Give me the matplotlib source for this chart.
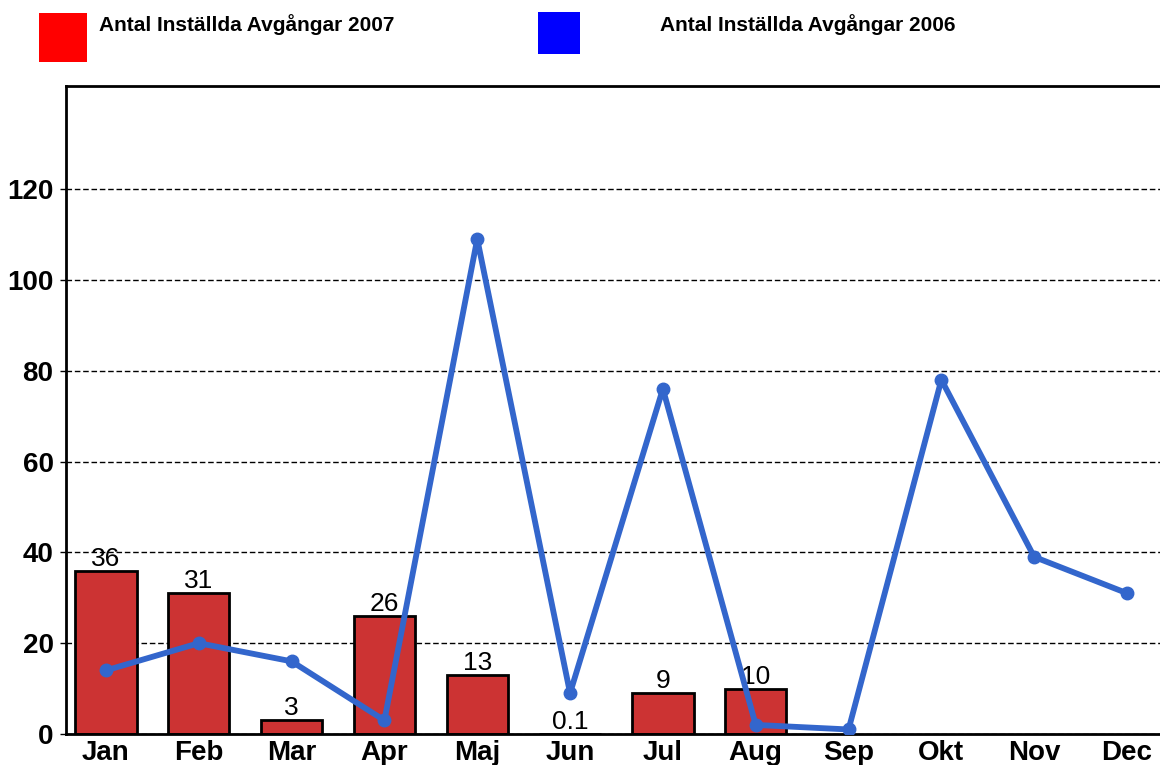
import numpy as np
import matplotlib.pyplot as plt
from matplotlib.patches import Rectangle

months = ["Jan", "Feb", "Mar", "Apr", "Maj", "Jun", "Jul", "Aug", "Sep", "Okt", "Nov", "Dec"]
cancelled_2007 = [36, 31, 3, 26, 13, 0.1, 9, 10]
labels_2007 = ["36", "31", "3", "26", "13", "0.1", "9", "10"]
cancelled_2006 = [14, 20, 16, 3, 109, 9, 76, 2, 1, 78, 39, 31]
yticks = [0, 20, 40, 60, 80, 100, 120]

plt.rcParams["font.family"] = ["Liberation Sans", "DejaVu Sans"]

W, H = 1160, 765
fig = plt.figure(figsize=(W / 100, H / 100), dpi=100)
ax = fig.add_axes([66 / W, (H - 734) / H, 1 - 66 / W + 0.01, (734 - 86) / H])

x = np.arange(len(months))
x7 = np.arange(len(cancelled_2007))

ax.bar(x7, cancelled_2007, width=0.66, color="#CC3333", edgecolor="black", linewidth=2, zorder=2)
for xi, v, lab in zip(x7, cancelled_2007, labels_2007):
    ax.annotate(lab, (xi, v), xytext=(0, 0), textcoords="offset points",
                ha="center", va="bottom", fontsize=19, zorder=3)

ax.plot(x, cancelled_2006, color="#3366CC", linewidth=4.2, marker="o", markersize=9, zorder=4)

ax.set_xlim(-0.43, 11.48)
ax.set_ylim(0, 142.7)
ax.set_yticks(yticks)
ax.set_yticklabels([str(t) for t in yticks], fontsize=20, fontweight="bold")
ax.set_xticks(x)
ax.set_xticklabels(months, fontsize=20, fontweight="bold")
ax.tick_params(axis="y", length=4, width=1, pad=5)
ax.tick_params(axis="x", length=0, pad=4)
ax.yaxis.grid(True, color="black", linestyle=(0, (4, 2)), linewidth=1)
ax.set_axisbelow(True)
for side in ["left", "top", "bottom"]:
    ax.spines[side].set_linewidth(2)
ax.spines["right"].set_visible(False)

# legend at top
fig.patches.append(Rectangle((39 / W, 1 - 62 / H), 48 / W, 49 / H, transform=fig.transFigure,
                             facecolor="#FF0000", edgecolor="none"))
fig.patches.append(Rectangle((538 / W, 1 - 54 / H), 42 / W, 42 / H, transform=fig.transFigure,
                             facecolor="#0000FF", edgecolor="none"))
fig.text(99 / W, 1 - 25 / H, "Antal Inställda Avgångar 2007", fontsize=15, fontweight="bold", va="center")
fig.text(660 / W, 1 - 25 / H, "Antal Inställda Avgångar 2006", fontsize=15, fontweight="bold", va="center")

fig.savefig("out.png", dpi=100)
